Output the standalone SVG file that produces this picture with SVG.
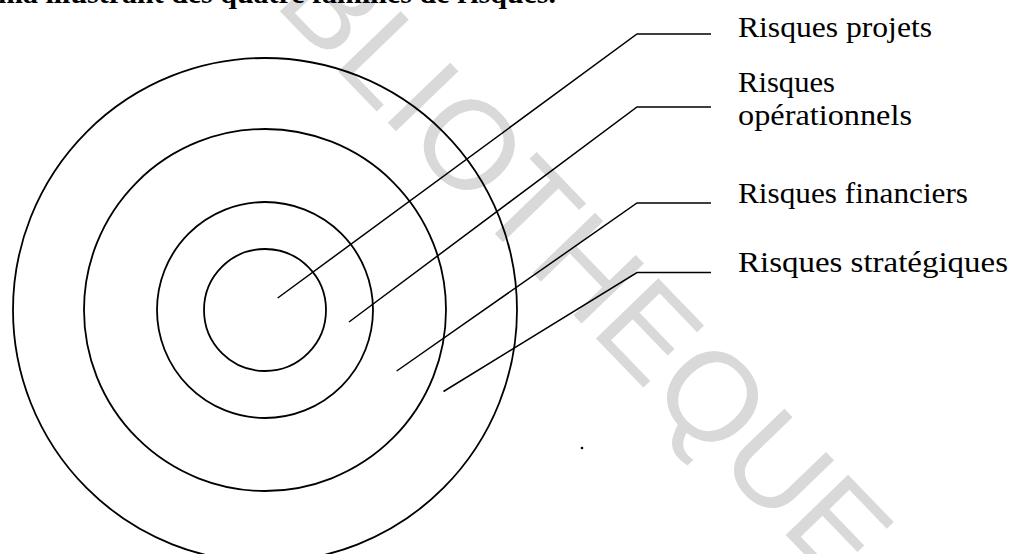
<svg xmlns="http://www.w3.org/2000/svg" width="1012" height="554" viewBox="0 0 1012 554">
  <style>
    .ring { fill: none; stroke: #000; stroke-width: 1.8; }
    .lead { fill: none; stroke: #000; stroke-width: 1.5; }
    .lbl { font-family: "Liberation Serif", "Times New Roman", serif; font-size: 29px; fill: #000; }
    .wm { font-family: "Liberation Sans", Arial, sans-serif; font-size: 126px; fill: #d9d9d9; }
  </style>
  <rect width="1012" height="554" fill="#fff"/>
  <g id="watermark">
    <text class="wm" transform="translate(190,-82) rotate(46)">BIBLIOTHEQUE</text>
  </g>
  <g id="caption">
    <text class="lbl" x="-2" y="3" font-size="27" font-weight="bold" textLength="558" lengthAdjust="spacingAndGlyphs">ma illustrant des quatre familles de risques.</text>
  </g>
  <g id="rings">
    <circle id="ring-strategiques" class="ring" cx="265" cy="310" r="252"/>
    <circle id="ring-financiers" class="ring" cx="265" cy="310" r="181"/>
    <circle id="ring-operationnels" class="ring" cx="265" cy="310" r="108"/>
    <circle id="ring-projets" class="ring" cx="265" cy="310" r="61"/>
  </g>
  <g id="connectors">
    <polyline class="lead" points="277.7,298 637,34 711,34"/>
    <polyline class="lead" points="349,322 637,107 711,107"/>
    <polyline class="lead" points="396.7,371 637,203 711,203"/>
    <polyline class="lead" points="443.5,391.5 637,272.5 711,272.5"/>
  </g>
  <g id="label-projets">
    <text class="lbl" x="738" y="36.5" textLength="194" lengthAdjust="spacingAndGlyphs">Risques projets</text>
  </g>
  <g id="label-operationnels">
    <text class="lbl" x="738" y="92" textLength="97" lengthAdjust="spacingAndGlyphs">Risques</text>
    <text class="lbl" x="738" y="125" textLength="174" lengthAdjust="spacingAndGlyphs">opérationnels</text>
  </g>
  <g id="label-financiers">
    <text class="lbl" x="738" y="202.5" textLength="230" lengthAdjust="spacingAndGlyphs">Risques financiers</text>
  </g>
  <g id="label-strategiques">
    <text class="lbl" x="738" y="271.5" textLength="270" lengthAdjust="spacingAndGlyphs">Risques stratégiques</text>
  </g>
  <circle cx="582" cy="448" r="1.3" fill="#000"/>
</svg>
